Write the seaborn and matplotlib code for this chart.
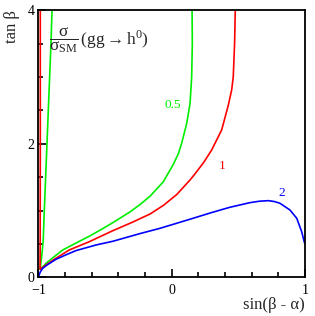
import numpy as np
import pandas as pd
import matplotlib
matplotlib.use('Agg')
import matplotlib.pyplot as plt
from matplotlib.ticker import MultipleLocator
import seaborn as sns

# contour sigma/sigma_SM = 0.5 (left branch from the top, cusp, right branch back to the top)
green_x = [-0.897, -0.905, -0.915, -0.925, -0.935, -0.945, -0.955, -0.963, -0.975, -0.987,
           -0.96, -0.942, -0.88, -0.817, -0.72, -0.618, -0.52, -0.44, -0.312, -0.237,
           -0.162, -0.063, 0.012, 0.05, 0.075, 0.113, 0.138, 0.15, 0.155, 0.153]
green_y = [4.0, 3.5, 3.0, 2.5, 2.0, 1.5, 1.0, 0.56, 0.3, 0.12,
           0.17, 0.21, 0.31, 0.409, 0.51, 0.615, 0.725, 0.82, 0.98, 1.09,
           1.215, 1.43, 1.69, 1.85, 2.007, 2.307, 2.607, 3.0, 3.5, 4.0]

# contour = 1
red_x = [-0.985, -0.985, -0.985, -0.986, -0.987, -0.965, -0.942, -0.88, -0.768, -0.618,
         -0.45, -0.30, -0.162, -0.06, 0.038, 0.138, 0.175, 0.24, 0.30, 0.375,
         0.425, 0.45, 0.462, 0.472, 0.477]
red_y = [4.0, 3.0, 2.0, 0.5, 0.12, 0.15, 0.184, 0.27, 0.409, 0.533,
         0.69, 0.82, 0.948, 1.08, 1.24, 1.458, 1.55, 1.72, 1.907, 2.207,
         2.58, 2.806, 3.005, 3.506, 4.0]

# contour = 2
blue_x = [-1.0, -0.993, -0.985, -0.967, -0.93, -0.867, -0.8, -0.717, -0.567, -0.44,
          -0.237, -0.087, 0.138, 0.3, 0.437, 0.587, 0.66, 0.725, 0.77, 0.812,
          0.887, 0.938, 0.975, 0.995, 1.0]
blue_y = [0.0, 0.04, 0.08, 0.135, 0.19, 0.27, 0.33, 0.40, 0.484, 0.54,
          0.655, 0.734, 0.87, 0.97, 1.049, 1.118, 1.14, 1.148, 1.135, 1.109,
          1.008, 0.884, 0.683, 0.525, 0.5]

contour_labels = ['0.5', '1', '2']
label_pos = [(0.01, 2.58), (0.375, 1.67), (0.825, 1.27)]
colors = ['#00ee00', '#ff0000', '#0000ff']

sns.set_style('ticks')
plt.rcParams['font.family'] = ['Liberation Serif', 'DejaVu Serif']
plt.rcParams['mathtext.fontset'] = 'custom'
plt.rcParams['mathtext.rm'] = 'Liberation Serif'
plt.rcParams['mathtext.it'] = 'Liberation Serif:italic'

fig = plt.figure(figsize=(3.15, 3.16), dpi=100)
ax = fig.add_axes([0.1216, 0.1225, 0.8467, 0.845])

curves = [(green_x, green_y), (red_x, red_y), (blue_x, blue_y)]
for (cx, cy), col in zip(curves, colors):
    df = pd.DataFrame({'x': cx, 'y': cy})
    sns.lineplot(data=df, x='x', y='y', sort=False, estimator=None,
                 color=col, linewidth=1.2, ax=ax)

for lab, (lx, ly), col in zip(contour_labels, label_pos, colors):
    ax.text(lx, ly, lab, color=col, fontsize=9.5, ha='center', va='center')

ax.text(-0.918, 3.55, r'$\dfrac{\mathrm{\sigma}}{\mathrm{\sigma_{SM}}}\,(\mathrm{gg} \rightarrow \mathrm{h}^0)$',
        fontsize=12.5, ha='left', va='center')

ax.set_xlim(-1, 1)
ax.set_ylim(0, 4)
ax.xaxis.set_major_locator(MultipleLocator(1))
ax.xaxis.set_minor_locator(MultipleLocator(0.2))
ax.yaxis.set_major_locator(MultipleLocator(2))
ax.yaxis.set_minor_locator(MultipleLocator(0.5))
ax.tick_params(which='both', direction='in', top=False, right=False,
               labelsize=10, width=1.2, colors='black')
ax.tick_params(which='major', length=6)
ax.tick_params(which='minor', length=3.5)
ax.tick_params(axis='x', which='major', pad=4.5)
ax.tick_params(axis='y', which='major', pad=2.5)
ax.set_xlabel('')
ax.set_ylabel('')
for sp in ax.spines.values():
    sp.set_linewidth(1.3)
    sp.set_color('black')

fig.text(0.968, 0.008, 'sin(β - α)', fontsize=12, ha='right', va='bottom')
fig.text(0.012, 0.967, 'tan β', fontsize=12, ha='left', va='top', rotation=90)

fig.savefig('out.png', dpi=100)
